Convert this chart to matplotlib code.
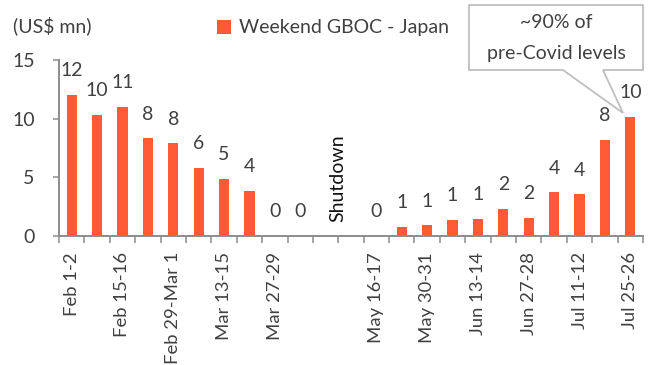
import matplotlib
matplotlib.use("Agg")
import matplotlib.pyplot as plt
import numpy as np
from matplotlib.patches import Polygon

plt.rcParams['font.family'] = ['Lato', 'DejaVu Sans']

categories = ["Feb 1-2", "Feb 8-9", "Feb 15-16", "Feb 22-23", "Feb 29-Mar 1", "Mar 7-8",
              "Mar 13-15", "Mar 20-22", "Mar 27-29", "Apr 3-5", "", "",
              "May 16-17", "May 23-24", "May 30-31", "Jun 6-7", "Jun 13-14", "Jun 20-21",
              "Jun 27-28", "Jul 4-5", "Jul 11-12", "Jul 18-19", "Jul 25-26"]
values = [12.02, 10.3, 11.0, 8.33, 7.9, 5.83, 4.86, 3.84, 0.03, 0.03, np.nan, np.nan,
          0.03, 0.77, 0.91, 1.36, 1.45, 2.3, 1.53, 3.72, 3.55, 8.18, 10.17]
series_name = "Weekend GBOC - Japan"
yticks = [0, 5, 10, 15]

W, H = 651, 365
BAR = '#FF5A36'
TXT = '#404040'
AX = '#8C8C8C'
FS = 14

fig = plt.figure(figsize=(W / 100, H / 100), dpi=100)
ax = fig.add_axes([59 / W, 1 - 236 / H, 584 / W, 176 / H])

n = len(categories)
x = np.arange(n) + 0.5
bars = ax.bar(x, values, width=0.4, color=BAR, label=series_name, zorder=2)

for xi, v in zip(x, values):
    if np.isnan(v):
        continue
    ax.annotate(f"{v:.0f}", (xi, v), xytext=(0, 13.5), textcoords='offset points',
                ha='center', va='baseline', fontsize=FS, color=TXT)

ax.set_xlim(0, n)
ax.set_ylim(0, 15)
ax.set_yticks(yticks)
ax.set_yticklabels([str(t) for t in yticks])
ax.tick_params(axis='y', length=4.5, width=1.1, color=AX, pad=13, labelsize=FS, labelcolor=TXT)

ax.set_xticks(np.arange(n + 1))
ax.set_xticklabels([])
ax.tick_params(axis='x', which='major', length=5, width=1.1, color=AX)
ax.set_xticks(x[::2], minor=True)
ax.set_xticklabels(categories[::2], minor=True, rotation=90, fontsize=13.3, color=TXT)
ax.tick_params(axis='x', which='minor', length=0, pad=11.5)

for s in ['top', 'right']:
    ax.spines[s].set_visible(False)
for s in ['left', 'bottom']:
    ax.spines[s].set_color(AX)
    ax.spines[s].set_linewidth(1.4)

ax.text(11, 4.9, "Shutdown", rotation=90, ha='center', va='center', fontsize=14,
        color='#111111')

fig.text(13 / W, 1 - 26 / H, "(US$ mn)", ha='left', va='center', fontsize=FS, color=TXT)

fig.legend(handles=[bars], loc='center left', bbox_to_anchor=(217 / W, 1 - 28 / H),
           frameon=False, fontsize=FS, handlelength=0.72, handleheight=0.72,
           handletextpad=0.4, borderpad=0, borderaxespad=0, labelcolor=TXT)

# callout box
pts = [(469, 5), (643, 5), (643, 70), (603, 70), (623, 113), (563, 70), (469, 70)]
poly = Polygon([(px / W, 1 - py / H) for px, py in pts], closed=True,
               transform=fig.transFigure, facecolor='white', edgecolor='#BFBFBF',
               linewidth=1.3, zorder=5)
fig.patches.append(poly)
fig.text(556 / W, 1 - 23 / H, "~90% of", ha='center', va='center', fontsize=FS,
         color=TXT, zorder=6)
fig.text(556 / W, 1 - 53 / H, "pre-Covid levels", ha='center', va='center', fontsize=FS,
         color=TXT, zorder=6)

fig.savefig("out.png", dpi=100)
